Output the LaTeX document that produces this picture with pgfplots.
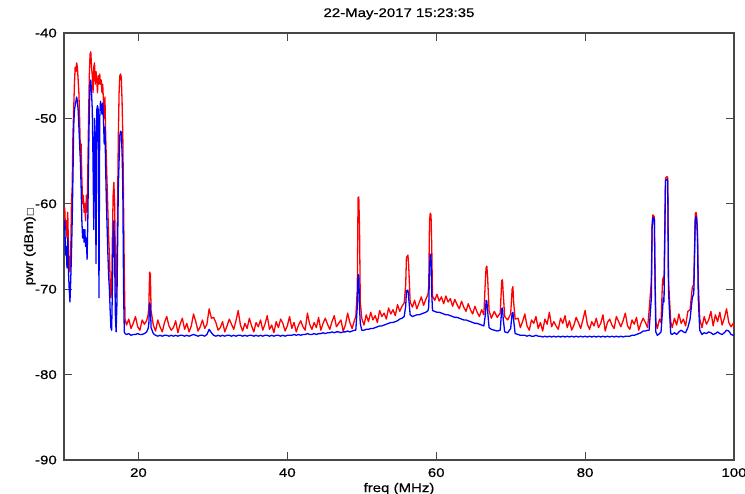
\documentclass[border=0pt]{standalone}
\usepackage{fontspec}
\setmainfont[FakeStretch=1.2, FakeBold=0.6]{Liberation Sans}
\newfontfamily\symfont{DejaVu Sans}
\usepackage{pgfplots}
\usepackage{pgfplotstable}
\pgfplotsset{compat=1.18}

% spectrum sweep: frequency (MHz), max-hold trace (r), average trace (b), dBm
\pgfplotstableread{
f r b
10.0 -61.0 -63.0
10.1 -60.5 -62.0
10.2 -63.0 -66.0
10.3 -62.0 -65.0
10.4 -64.0 -67.5
10.5 -61.0 -64.0
10.6 -65.0 -68.0
10.7 -67.0 -70.0
10.8 -68.0 -71.5
10.9 -66.0 -69.0
11.0 -60.0 -66.0
11.1 -58.0 -62.0
11.2 -52.0 -57.0
11.3 -49.0 -51.0
11.4 -46.0 -49.0
11.5 -44.0 -48.5
11.6 -44.5 -48.0
11.7 -43.5 -47.5
11.8 -44.0 -48.0
11.9 -45.5 -49.0
12.0 -47.0 -51.0
12.1 -50.0 -53.0
12.2 -54.0 -55.0
12.3 -53.0 -58.0
12.4 -57.0 -62.0
12.5 -60.0 -64.0
12.6 -59.0 -63.0
12.7 -61.0 -64.5
12.8 -60.0 -63.0
12.9 -62.0 -65.0
13.0 -59.0 -64.0
13.1 -61.0 -66.5
13.2 -56.0 -62.0
13.3 -50.0 -55.0
13.4 -45.0 -49.0
13.5 -42.5 -46.0
13.6 -42.2 -45.5
13.7 -44.0 -47.0
13.8 -45.0 -49.0
13.9 -47.0 -55.0
14.0 -44.0 -63.0
14.1 -43.5 -50.0
14.2 -46.0 -52.0
14.3 -44.5 -67.0
14.4 -45.5 -49.0
14.5 -47.0 -48.5
14.6 -45.0 -49.0
14.7 -46.0 -71.0
14.8 -44.8 -50.0
14.9 -46.0 -48.0
15.0 -45.5 -48.5
15.1 -47.0 -49.5
15.2 -46.0 -48.2
15.3 -48.0 -50.0
15.4 -50.0 -53.0
15.5 -47.5 -51.0
15.6 -52.0 -56.0
15.7 -55.0 -60.0
15.8 -58.0 -63.0
15.9 -61.0 -66.0
16.0 -64.0 -68.5
16.1 -66.0 -70.0
16.2 -69.0 -72.5
16.3 -71.0 -74.5
16.4 -70.0 -74.8
16.5 -64.0 -70.0
16.6 -59.0 -64.0
16.7 -57.5 -62.0
16.8 -60.0 -66.0
16.9 -66.0 -73.0
17.0 -71.0 -75.0
17.1 -68.0 -72.0
17.2 -60.0 -65.0
17.3 -52.0 -58.0
17.4 -47.0 -55.0
17.5 -45.0 -52.0
17.6 -44.8 -51.5
17.7 -45.2 -51.6
17.8 -48.0 -54.0
17.9 -52.0 -58.0
18.0 -60.0 -70.0
18.1 -68.0 -75.0
18.2 -73.5 -75.2
18.4 -74.2 -75.3
18.7 -73.5 -75.2
19.0 -74.6 -75.4
19.3 -74.0 -75.3
19.6 -73.2 -75.3
19.9 -74.4 -75.2
20.2 -74.8 -75.3
20.5 -73.6 -75.3
20.8 -74.1 -75.2
21.1 -73.7 -75.0
21.3 -73.0 -74.6
21.4 -72.0 -74.0
21.5 -68.0 -71.6
21.6 -68.2 -71.8
21.7 -72.5 -74.5
22.0 -74.2 -75.2
22.3 -74.9 -75.4
22.6 -73.6 -75.5
22.9 -74.4 -75.4
23.2 -75.0 -75.5
23.5 -73.9 -75.4
23.8 -73.2 -75.4
24.1 -74.3 -75.5
24.4 -74.8 -75.4
24.7 -74.5 -75.5
25.0 -73.7 -75.4
25.3 -75.1 -75.5
25.6 -74.1 -75.4
25.9 -73.4 -75.4
26.2 -74.7 -75.5
26.5 -74.0 -75.4
26.8 -75.0 -75.5
27.1 -74.3 -75.4
27.4 -72.9 -75.3
27.7 -73.8 -75.4
28.0 -74.9 -75.5
28.3 -74.4 -75.4
28.6 -73.6 -75.4
28.9 -74.6 -75.5
29.2 -74.1 -75.3
29.5 -72.3 -74.7
29.8 -73.4 -75.1
30.1 -73.3 -75.4
30.4 -73.9 -75.5
30.7 -74.8 -75.4
31.0 -74.5 -75.5
31.3 -73.8 -75.4
31.6 -75.0 -75.5
31.9 -74.3 -75.4
32.2 -73.5 -75.4
32.5 -74.1 -75.5
32.8 -74.7 -75.4
33.1 -73.7 -75.5
33.4 -72.5 -75.4
33.7 -74.2 -75.4
34.0 -74.9 -75.5
34.3 -74.0 -75.4
34.6 -74.6 -75.5
34.9 -73.4 -75.4
35.2 -74.3 -75.4
35.5 -75.0 -75.5
35.8 -73.9 -75.4
36.1 -74.4 -75.5
36.4 -73.6 -75.4
36.7 -74.8 -75.5
37.0 -74.1 -75.4
37.3 -73.1 -75.4
37.6 -74.7 -75.5
37.9 -74.2 -75.4
38.2 -75.1 -75.5
38.5 -73.8 -75.4
38.8 -74.5 -75.4
39.1 -73.5 -75.5
39.4 -74.0 -75.4
39.7 -74.9 -75.5
40.0 -74.3 -75.4
40.3 -73.2 -75.4
40.6 -74.6 -75.4
40.9 -73.9 -75.3
41.2 -75.0 -75.4
41.5 -74.2 -75.3
41.8 -73.7 -75.4
42.1 -74.4 -75.3
42.4 -74.8 -75.3
42.7 -72.8 -75.2
43.0 -74.1 -75.3
43.3 -74.7 -75.3
43.6 -73.9 -75.2
43.9 -74.5 -75.3
44.2 -73.3 -75.2
44.5 -74.8 -75.2
44.8 -74.0 -75.1
45.1 -73.4 -75.2
45.4 -74.1 -75.1
45.7 -74.7 -75.1
46.0 -73.8 -75.0
46.3 -73.1 -75.1
46.6 -74.4 -75.0
46.9 -74.0 -75.0
47.2 -73.6 -75.1
47.5 -74.9 -75.0
47.8 -74.2 -75.0
48.1 -72.8 -74.9
48.4 -73.9 -75.0
48.7 -74.6 -74.9
49.0 -73.7 -74.8
49.2 -73.2 -74.8
49.4 -70.0 -72.0
49.5 -59.3 -68.3
49.6 -59.2 -68.4
49.7 -63.0 -72.2
49.8 -71.5 -74.0
50.0 -73.4 -74.8
50.3 -74.2 -74.8
50.6 -73.0 -74.7
50.9 -73.8 -74.7
51.2 -72.7 -74.6
51.5 -73.6 -74.6
51.8 -73.1 -74.5
52.1 -73.9 -74.4
52.4 -72.5 -74.3
52.7 -73.2 -74.3
53.0 -72.8 -74.2
53.3 -73.5 -74.1
53.6 -72.2 -74.0
53.9 -72.9 -73.9
54.2 -72.4 -73.9
54.5 -73.1 -73.8
54.8 -71.8 -73.7
55.1 -72.6 -73.5
55.4 -72.0 -73.4
55.7 -71.6 -73.2
55.9 -69.5 -72.0
56.0 -66.3 -70.2
56.2 -66.0 -70.1
56.3 -67.2 -71.0
56.5 -71.5 -73.0
56.8 -72.1 -73.2
57.1 -71.3 -73.1
57.4 -72.3 -73.0
57.7 -71.6 -73.0
58.0 -70.9 -72.9
58.3 -71.9 -72.8
58.6 -71.2 -72.7
58.9 -70.6 -72.5
59.0 -69.5 -72.0
59.1 -62.0 -67.5
59.2 -61.1 -65.9
59.3 -61.3 -66.0
59.4 -65.0 -70.5
59.5 -70.8 -72.5
59.8 -71.3 -72.6
60.1 -70.6 -72.7
60.4 -71.4 -72.7
60.7 -70.9 -72.8
61.0 -71.7 -72.9
61.3 -70.8 -73.0
61.6 -71.5 -73.0
61.9 -71.1 -73.1
62.2 -72.0 -73.2
62.5 -71.2 -73.3
62.8 -71.8 -73.3
63.1 -72.3 -73.4
63.4 -71.4 -73.5
63.7 -72.1 -73.6
64.0 -72.6 -73.6
64.3 -71.7 -73.7
64.6 -72.4 -73.8
64.9 -72.9 -73.9
65.2 -72.0 -74.0
65.5 -72.7 -74.0
65.8 -73.2 -74.1
66.1 -72.4 -74.2
66.4 -73.0 -74.3
66.6 -69.0 -73.0
66.7 -67.5 -71.3
66.8 -67.3 -71.4
66.9 -68.5 -72.5
67.1 -72.5 -74.5
67.4 -73.4 -74.7
67.8 -72.6 -74.8
68.2 -73.3 -74.9
68.6 -72.8 -74.8
68.8 -69.0 -72.3
68.9 -68.9 -72.2
69.0 -70.5 -73.5
69.2 -73.2 -75.0
69.6 -73.6 -75.1
70.0 -72.9 -74.6
70.2 -70.0 -72.8
70.3 -69.7 -72.7
70.4 -71.5 -73.6
70.6 -73.5 -75.2
71.0 -73.4 -75.3
71.3 -74.5 -75.4
71.6 -73.8 -75.4
71.9 -72.9 -75.4
72.2 -74.3 -75.5
72.5 -74.8 -75.4
72.8 -73.6 -75.5
73.1 -74.0 -75.5
73.4 -73.2 -75.4
73.7 -74.6 -75.5
74.0 -73.9 -75.5
74.3 -74.9 -75.6
74.6 -73.5 -75.5
74.9 -74.1 -75.6
75.2 -72.7 -75.5
75.5 -74.4 -75.6
75.8 -73.8 -75.5
76.1 -74.3 -75.6
76.4 -74.7 -75.5
76.7 -73.4 -75.6
77.0 -74.0 -75.5
77.3 -73.1 -75.6
77.6 -74.5 -75.5
77.9 -73.7 -75.6
78.2 -74.8 -75.5
78.5 -74.2 -75.6
78.8 -73.3 -75.5
79.1 -73.9 -75.6
79.4 -74.6 -75.5
79.7 -73.6 -75.6
80.0 -72.5 -75.5
80.3 -74.1 -75.6
80.6 -74.7 -75.5
80.9 -73.8 -75.6
81.2 -74.3 -75.5
81.5 -73.4 -75.6
81.8 -74.5 -75.5
82.1 -74.0 -75.6
82.4 -73.0 -75.5
82.7 -74.9 -75.6
83.0 -73.9 -75.5
83.3 -73.5 -75.6
83.6 -74.2 -75.5
83.9 -74.6 -75.6
84.2 -73.2 -75.5
84.5 -73.8 -75.6
84.8 -74.4 -75.5
85.1 -73.7 -75.6
85.4 -72.8 -75.5
85.7 -74.3 -75.5
86.0 -74.7 -75.5
86.3 -73.6 -75.4
86.6 -74.1 -75.4
86.9 -73.3 -75.3
87.2 -74.8 -75.2
87.5 -74.0 -75.1
87.8 -73.4 -74.9
88.1 -73.9 -74.9
88.4 -74.5 -74.8
88.6 -72.5 -74.8
88.9 -69.0 -71.0
89.0 -62.5 -62.8
89.1 -61.3 -61.6
89.3 -61.5 -61.8
89.4 -68.5 -69.5
89.5 -73.8 -75.0
89.7 -74.6 -75.4
90.0 -73.5 -75.2
90.2 -73.9 -75.0
90.4 -69.0 -72.5
90.5 -68.6 -71.0
90.6 -69.5 -71.5
90.8 -57.0 -57.3
91.0 -56.8 -57.1
91.1 -57.0 -57.3
91.2 -68.8 -70.0
91.3 -70.5 -72.0
91.5 -73.8 -75.2
91.7 -74.5 -75.3
92.0 -73.4 -75.1
92.3 -74.2 -75.3
92.6 -72.9 -75.0
92.9 -74.0 -74.8
93.2 -73.5 -75.0
93.5 -74.3 -75.1
93.8 -72.6 -74.5
94.1 -72.4 -73.5
94.4 -69.8 -71.0
94.6 -69.4 -70.5
94.8 -61.2 -61.8
94.9 -61.0 -61.5
95.0 -61.5 -62.0
95.1 -63.5 -64.0
95.2 -69.0 -71.0
95.4 -73.5 -74.8
95.7 -74.5 -75.3
96.0 -73.2 -75.1
96.3 -74.1 -75.2
96.6 -73.6 -75.0
96.9 -72.6 -75.1
97.2 -74.3 -75.3
97.5 -73.0 -75.2
97.8 -73.8 -75.0
98.1 -72.7 -75.2
98.4 -74.2 -75.3
98.7 -73.4 -75.1
99.0 -72.3 -74.8
99.3 -73.9 -74.9
99.6 -74.4 -75.3
99.9 -74.0 -75.4
100.0 -74.5 -75.4
}\spectrum

\begin{document}
\begin{tikzpicture}[x=1pt,y=1pt]
\path[use as bounding box] (0,0) rectangle (745,494);
\clip (0,0) rectangle (745,494);
\begin{axis}[
  at={(64pt,34pt)}, anchor=south west,
  scale only axis, width=670pt, height=427pt,
  xmin=10, xmax=100, ymin=-90, ymax=-40,
  xtick={20,40,60,80,100},
  xticklabels={20,40,60,80,100},
  ytick={-90,-80,-70,-60,-50,-40},
  yticklabels={-90,-80,-70,-60,-50,-40},
  tick align=inside,
  major tick length=8pt,
  every tick/.style={black!72, line width=1.2pt},
  axis line style={black!72, line width=1.3pt},
  tick label style={font=\fontsize{12.5}{14}\selectfont, inner sep=0pt},
  xticklabel style={yshift=-8pt},
  yticklabel style={xshift=-7pt},
  every axis title shift=0pt,
  title={22-May-2017 15:23:35},
  title style={at={(axis description cs:0.5,1.0375)}, anchor=base,
    inner sep=0pt, font=\fontsize{12.5}{14}\selectfont},
  xlabel={freq (MHz)},
  xlabel style={at={(axis description cs:0.5,-0.075)}, anchor=base,
    inner sep=0pt, font=\fontsize{12.5}{14}\selectfont},
  ylabel={pwr (dBm){\symfont\fontsize{9}{10}\selectfont □}},
  ylabel style={at={(axis description cs:-0.0463,0.5)}, anchor=base,
    inner sep=0pt, font=\fontsize{12.5}{14}\selectfont},
  clip=true,
]
\addplot[red, line width=1.3pt, sharp plot, line join=round] table[x=f, y=r] {\spectrum};
\addplot[blue, line width=1.3pt, sharp plot, line join=round] table[x=f, y=b] {\spectrum};
\end{axis}
\end{tikzpicture}
\end{document}
